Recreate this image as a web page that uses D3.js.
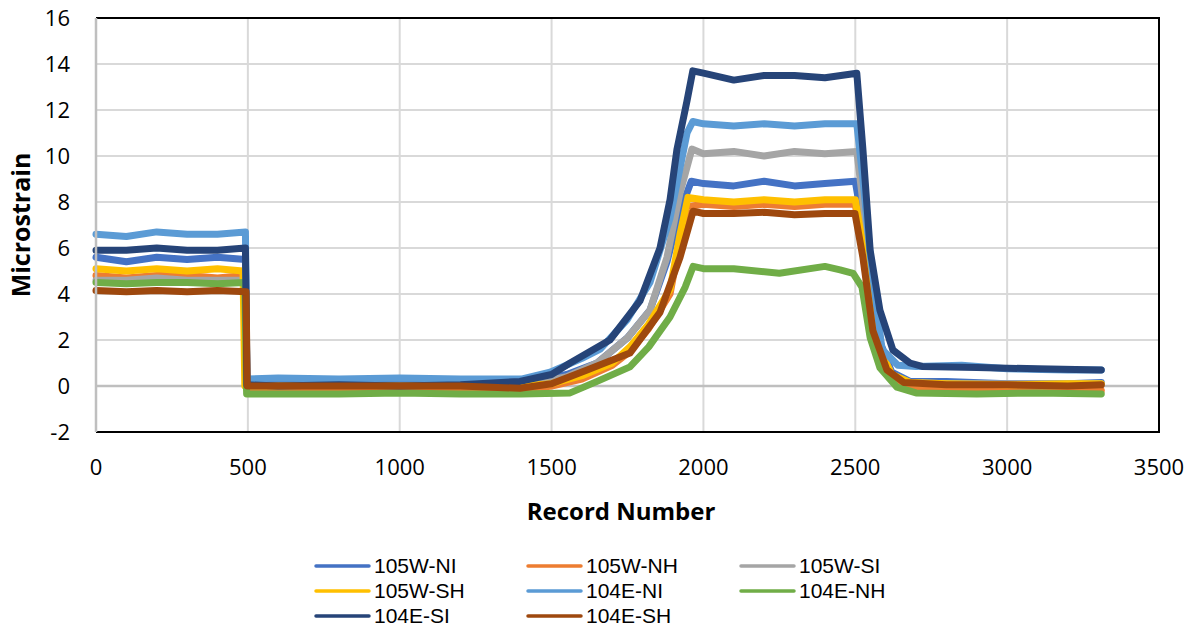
<!DOCTYPE html>
<html>
<head>
<meta charset="utf-8">
<script src="https://cdn.jsdelivr.net/npm/d3@7"></script>
<style>
  body { margin: 0; background: #fff; }
  svg { display: block; font-family: "Open Sans", "Liberation Sans", sans-serif; }
</style>
</head>
<body>
<div id="chart"></div>
<script>
// Series names (legend order = draw order)
const seriesNames = ["105W-NI", "105W-NH", "105W-SI", "105W-SH", "104E-NI", "104E-NH", "104E-SI", "104E-SH"];
const seriesColors = ["#4472C4", "#ED7D31", "#A5A5A5", "#FFC000", "#5B9BD5", "#70AD47", "#264478", "#9E480E"];

// [record number, microstrain]
const w105NI = [[0,5.6],[100,5.4],[200,5.6],[300,5.5],[400,5.6],[492,5.5],[497,0.0],[600,0.1],[800,0.0],[1000,0.1],[1200,0.0],[1400,0.1],[1550,0.5],[1650,1.0],[1750,2.1],[1824,3.3],[1880,5.4],[1923,7.6],[1960,8.9],[2000,8.8],[2100,8.7],[2200,8.9],[2300,8.7],[2400,8.8],[2500,8.9],[2522,7.2],[2550,4.4],[2582,1.9],[2620,0.6],[2680,0.2],[2800,0.2],[3000,0.1],[3200,0.1],[3310,0.15]];
const w105NH = [[0,4.8],[100,4.7],[200,4.8],[300,4.8],[400,4.7],[490,4.8],[495,-0.1],[600,-0.2],[800,-0.15],[1000,-0.2],[1200,-0.15],[1400,-0.2],[1500,0.0],[1600,0.3],[1700,0.9],[1758,1.5],[1820,2.5],[1890,4.0],[1923,6.3],[1949,7.8],[2000,7.9],[2100,7.8],[2200,7.9],[2300,7.8],[2400,7.9],[2500,7.9],[2520,6.2],[2550,3.5],[2580,1.4],[2620,0.3],[2680,-0.1],[2800,-0.15],[3000,-0.2],[3200,-0.15],[3310,-0.2]];
const w105SI = [[0,4.6],[100,4.6],[200,4.7],[300,4.6],[400,4.6],[490,4.6],[496,0.0],[600,0.0],[800,0.05],[1000,0.0],[1200,0.05],[1400,0.0],[1550,0.4],[1650,1.0],[1750,2.1],[1824,3.3],[1880,5.6],[1923,8.4],[1962,10.3],[2000,10.1],[2100,10.2],[2200,10.0],[2300,10.2],[2400,10.1],[2505,10.2],[2525,8.0],[2550,5.0],[2581,1.6],[2620,0.5],[2680,0.15],[2800,0.1],[3000,0.1],[3200,0.1],[3310,0.1]];
const w105SH = [[0,5.1],[100,5.0],[200,5.1],[300,5.0],[400,5.1],[484,5.0],[490,0.0],[600,0.0],[800,0.05],[1000,0.0],[1200,0.05],[1400,0.0],[1500,0.1],[1600,0.45],[1700,1.0],[1758,1.7],[1820,2.7],[1890,4.2],[1923,6.6],[1949,8.2],[2000,8.1],[2100,8.0],[2200,8.1],[2300,8.0],[2400,8.1],[2500,8.1],[2520,6.5],[2550,3.8],[2580,1.6],[2620,0.5],[2680,0.15],[2800,0.1],[3000,0.05],[3200,0.1],[3310,0.1]];
const e104NI = [[0,6.6],[100,6.5],[200,6.7],[300,6.6],[400,6.6],[492,6.7],[497,0.3],[600,0.35],[800,0.3],[1000,0.35],[1200,0.3],[1400,0.3],[1495,0.6],[1600,1.2],[1660,1.6],[1750,2.9],[1824,4.5],[1890,7.3],[1946,11.0],[1965,11.5],[2000,11.4],[2100,11.3],[2200,11.4],[2300,11.3],[2400,11.4],[2505,11.4],[2525,9.0],[2550,5.6],[2588,1.6],[2640,0.9],[2700,0.85],[2850,0.9],[3000,0.75],[3200,0.7],[3310,0.7]];
const e104NH = [[0,4.5],[100,4.45],[200,4.5],[300,4.5],[400,4.45],[490,4.5],[496,-0.35],[600,-0.35],[800,-0.35],[1000,-0.3],[1200,-0.35],[1400,-0.35],[1561,-0.3],[1650,0.2],[1758,0.83],[1820,1.7],[1890,3.0],[1940,4.3],[1966,5.2],[2000,5.1],[2100,5.1],[2250,4.9],[2400,5.2],[2450,5.05],[2493,4.9],[2522,4.3],[2549,2.1],[2581,0.8],[2637,-0.05],[2700,-0.3],[2900,-0.35],[3100,-0.3],[3310,-0.35]];
const e104SI = [[0,5.9],[100,5.9],[200,6.0],[300,5.9],[400,5.9],[492,6.0],[497,0.05],[600,0.0],[800,0.05],[1000,0.0],[1200,0.05],[1396,0.2],[1500,0.5],[1561,1.0],[1692,2.0],[1791,3.7],[1857,6.0],[1890,8.1],[1913,10.3],[1946,12.4],[1965,13.7],[2000,13.6],[2100,13.3],[2200,13.5],[2300,13.5],[2400,13.4],[2505,13.6],[2525,10.3],[2549,5.9],[2581,3.3],[2624,1.56],[2680,1.0],[2720,0.85],[2900,0.8],[3100,0.75],[3310,0.7]];
const e104SH = [[0,4.15],[100,4.1],[200,4.15],[300,4.1],[400,4.15],[494,4.1],[498,0.0],[600,0.0],[800,0.0],[1000,0.0],[1200,0.0],[1396,-0.1],[1500,0.1],[1617,0.7],[1758,1.43],[1857,3.2],[1923,5.6],[1966,7.6],[2000,7.5],[2100,7.5],[2200,7.55],[2300,7.45],[2400,7.5],[2499,7.5],[2525,5.6],[2558,2.4],[2604,0.7],[2660,0.15],[2800,0.05],[3000,0.05],[3200,0.0],[3310,0.05]];

const seriesData = [w105NI, w105NH, w105SI, w105SH, e104NI, e104NH, e104SI, e104SH];

// Axis ticks
const xTicks = [0, 500, 1000, 1500, 2000, 2500, 3000, 3500];
const yTicks = [-2, 0, 2, 4, 6, 8, 10, 12, 14, 16];

const width = 1193;
const height = 628;
const margin = { top: 18, right: 34, bottom: 196, left: 96 };

const svg = d3.select("#chart")
    .append("svg")
    .attr("width", width)
    .attr("height", height);

const x = d3.scaleLinear()
    .domain([0, 3500])
    .range([margin.left, width - margin.right]);

const y = d3.scaleLinear()
    .domain([-2, 16])
    .range([height - margin.bottom, margin.top]);

// Gridlines
svg.append("g")
    .selectAll("line")
    .data(yTicks)
    .join("line")
    .attr("x1", margin.left)
    .attr("x2", width - margin.right)
    .attr("y1", d => y(d))
    .attr("y2", d => y(d))
    .attr("stroke", "#d9d9d9")
    .attr("stroke-width", 2);

svg.append("g")
    .selectAll("line")
    .data(xTicks)
    .join("line")
    .attr("x1", d => x(d))
    .attr("x2", d => x(d))
    .attr("y1", margin.top)
    .attr("y2", height - margin.bottom)
    .attr("stroke", "#d9d9d9")
    .attr("stroke-width", 2);

// Zero line
svg.append("line")
    .attr("x1", margin.left)
    .attr("x2", width - margin.right)
    .attr("y1", y(0))
    .attr("y2", y(0))
    .attr("stroke", "#bfbfbf")
    .attr("stroke-width", 2.5);

// Lines
const line = d3.line()
    .x(d => x(d[0]))
    .y(d => y(d[1]));

svg.append("g")
    .selectAll("path")
    .data(seriesData)
    .join("path")
    .attr("fill", "none")
    .attr("stroke", (d, i) => seriesColors[i])
    .attr("stroke-width", 7)
    .attr("stroke-linejoin", "round")
    .attr("stroke-linecap", "round")
    .attr("d", line);

// Plot area border (black top/right/bottom, grey left axis)
svg.append("path")
    .attr("d", `M${margin.left},${margin.top}H${width - margin.right}V${height - margin.bottom}H${margin.left}`)
    .attr("fill", "none")
    .attr("stroke", "#000")
    .attr("stroke-width", 2);

svg.append("line")
    .attr("x1", margin.left)
    .attr("x2", margin.left)
    .attr("y1", margin.top)
    .attr("y2", height - margin.bottom)
    .attr("stroke", "#bfbfbf")
    .attr("stroke-width", 2.5);

// Tick labels
svg.append("g")
    .selectAll("text")
    .data(yTicks)
    .join("text")
    .attr("x", 70)
    .attr("y", d => y(d))
    .attr("dy", "0.35em")
    .attr("text-anchor", "end")
    .style("font-size", "22px")
    .style("fill", "#000")
    .text(d => d);

svg.append("g")
    .selectAll("text")
    .data(xTicks)
    .join("text")
    .attr("x", d => x(d))
    .attr("y", 467)
    .attr("dy", "0.35em")
    .attr("text-anchor", "middle")
    .style("font-size", "22px")
    .style("fill", "#000")
    .text(d => d);

// Axis titles
svg.append("text")
    .attr("x", 621)
    .attr("y", 512)
    .attr("dy", "0.35em")
    .attr("text-anchor", "middle")
    .style("font-size", "24px")
    .style("font-weight", "bold")
    .text("Record Number");

svg.append("text")
    .attr("transform", `translate(21, ${(margin.top + height - margin.bottom) / 2}) rotate(-90)`)
    .attr("dy", "0.35em")
    .attr("text-anchor", "middle")
    .style("font-size", "25px")
    .style("font-weight", "bold")
    .text("Microstrain");

// Legend: 3 columns
const legendCols = [316, 528, 741];
const legendRows = [566, 591, 616];

const legend = svg.append("g")
    .selectAll("g")
    .data(seriesNames)
    .join("g")
    .attr("transform", (d, i) => `translate(${legendCols[i % 3]}, ${legendRows[Math.floor(i / 3)]})`);

legend.append("line")
    .attr("x1", 0)
    .attr("x2", 53)
    .attr("stroke", (d, i) => seriesColors[i])
    .attr("stroke-width", 3.5)
    .attr("stroke-linecap", "round");

legend.append("text")
    .attr("x", 58)
    .attr("dy", "0.35em")
    .style("font-family", "'Liberation Sans', Arial, sans-serif")
    .style("font-size", "21px")
    .text(d => d);
</script>
</body>
</html>
